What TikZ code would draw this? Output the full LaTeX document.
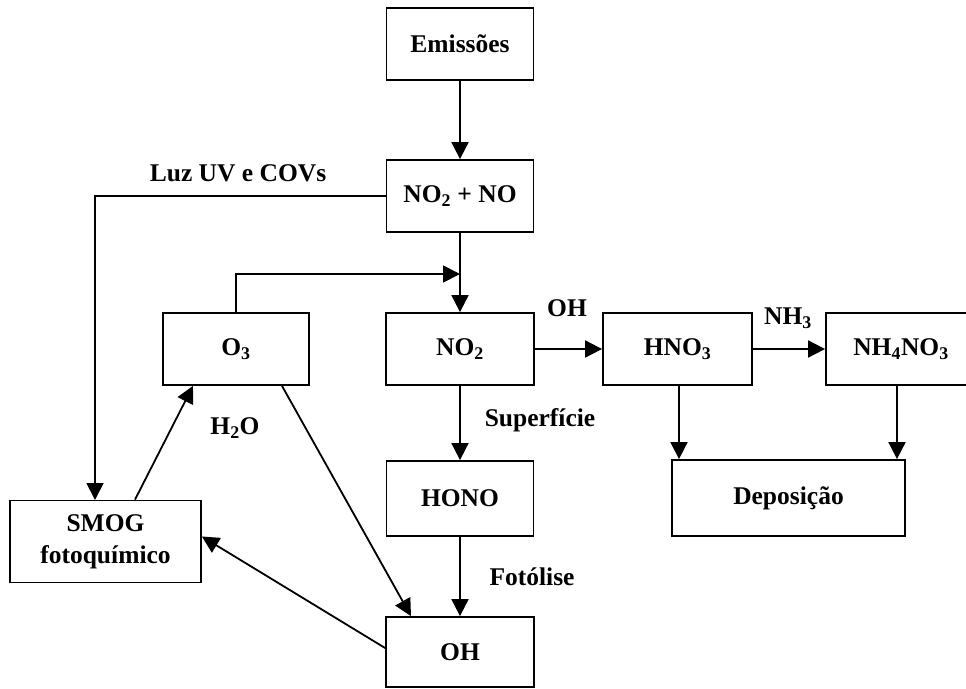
\documentclass[tikz,border=0pt]{standalone}
\usepackage{fontspec}
\setmainfont{Liberation Serif}
\usetikzlibrary{arrows.meta,calc}
\begin{document}
\begin{tikzpicture}[x={(1pt,0)},y={(0,-1pt)},
  every node/.style={font=\fontsize{25.5}{30}\selectfont\bfseries},
  box/.style={draw,line width=1.8pt,inner sep=0pt,align=center},
  arr/.style={line width=1.8pt,-{Triangle[length=17pt,width=17pt]}},
  lbl/.style={inner sep=0pt}]
\useasboundingbox (0,0) rectangle (966,688);
\node[box,minimum width=147pt,minimum height=72pt] (em) at (460,44) {Emissões};
\node[box,minimum width=147pt,minimum height=72pt] (nono) at (460,196) {NO\textsubscript{2} + NO};
\node[box,minimum width=146pt,minimum height=72pt] (o3) at (236,349) {O\textsubscript{3}};
\node[box,minimum width=148pt,minimum height=72pt] (no2) at (460,349) {NO\textsubscript{2}};
\node[box,minimum width=149pt,minimum height=72pt] (hno3) at (677.5,349) {HNO\textsubscript{3}};
\node[box,minimum width=150pt,minimum height=72pt] (nh4) at (901,349) {NH\textsubscript{4}NO\textsubscript{3}};
\node[box,minimum width=147pt,minimum height=75pt] (hono) at (460,498.5) {HONO};
\node[box,minimum width=148pt,minimum height=70pt] (oh) at (460,652) {OH};
\node[box,minimum width=191pt,minimum height=82pt] (smog) at (105.5,541.5) {SMOG\\[2pt]fotoquímico};
\node[box,minimum width=233pt,minimum height=76pt] (dep) at (788.5,498) {Deposição};
% labels
\node[lbl] (l1) at (238,173) {Luz UV e COVs};
\node[lbl] (l2) at (567,308) {OH};
\node[lbl] (l3) at (788,318) {NH\textsubscript{3}};
\node[lbl] (l4) at (540,420) {Superfície};
\node[lbl] (l5) at (235,428) {H\textsubscript{2}O};
\node[lbl] (l6) at (532,577) {Fotólise};
% coordinates
\coordinate (s1) at (95,500);
\coordinate (j) at (460,274);
% connectors
\draw[arr] (em.south) -- (nono.north);
\draw[arr] (nono.west) -| (s1);
\draw[arr] (nono.south) -- (no2.north);
\draw[arr] (o3.north) |- (j);
\draw[arr] (no2.east) -- (hno3.west);
\draw[arr] (hno3.east) -- (nh4.west);
\draw[arr] ([xshift=1.5pt]hno3.south) -- ([xshift=1.5pt]hno3.south |- dep.north);
\draw[arr] ([xshift=-4pt]nh4.south) -- ([xshift=-4pt]nh4.south |- dep.north);
\draw[arr] (no2.south) -- (hono.north);
\draw[arr] (hono.south) -- (oh.north);
\draw[arr] ([xshift=46pt]o3.south) -- ([xshift=-49pt]oh.north);
\draw[arr] ([xshift=29.5pt]smog.north) -- ([xshift=-43pt]o3.south);
\draw[arr] ([yshift=4pt]oh.west) -- ([yshift=5pt]smog.east);
\end{tikzpicture}
\end{document}
